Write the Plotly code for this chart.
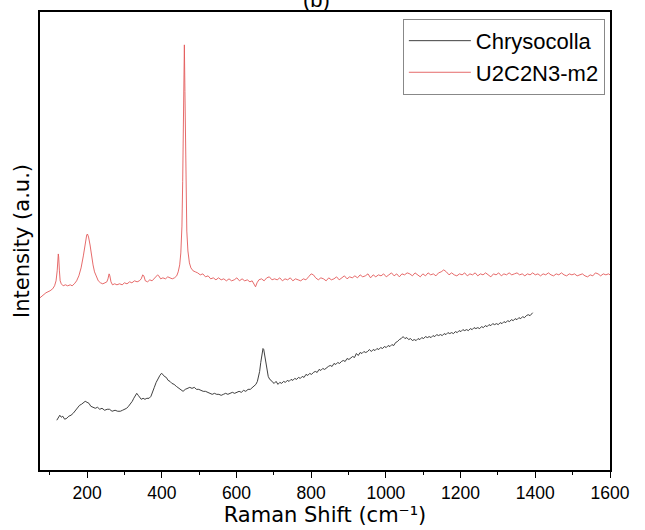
import plotly.graph_objects as go

# ---- data ----
series_names = ["Chrysocolla", "U2C2N3-m2"]

chry_x = [119,123,127,131,135,140,146,151,157,163,169,175,180,185,190,195,200,205,210,216,222,228,234,240,247,254,260,267,275,282,289,295,300,306,311,316,321,325,329,333,337,341,345,350,355,360,366,371,376,380,385,390,395,399,403,407,412,417,422,427,433,439,445,451,457,463,469,475,481,487,493,499,505,511,517,523,529,535,541,547,553,559,565,571,577,583,589,595,601,607,613,619,625,631,637,643,648,652,656,659,662,665,668,671,673,676,679,682,685,689,693,697,701,706,711,716,721,726,731,736,741,746,751,756,761,766,771,776,781,786,791,796,801,806,811,816,821,826,831,836,841,846,851,856,861,866,871,876,881,886,891,896,901,906,911,916,921,926,931,936,941,946,951,956,961,966,971,976,981,986,991,996,1001,1006,1011,1016,1021,1026,1031,1036,1041,1046,1051,1056,1061,1066,1071,1076,1081,1086,1091,1096,1101,1106,1111,1116,1121,1126,1131,1136,1141,1146,1151,1156,1161,1166,1171,1176,1181,1186,1191,1196,1201,1206,1211,1216,1221,1226,1231,1236,1241,1246,1251,1256,1261,1266,1271,1276,1281,1286,1291,1296,1301,1306,1311,1316,1321,1326,1331,1336,1341,1346,1351,1356,1361,1366,1371,1376,1381,1386,1391,1393]
chry_y = [50,53,55,53,54,51,52,54,55,57,60,62,65,66,68,69,68,67,64,63,62,63,61,62,60,61,61,59,60,59,59,60,61,62,64,66,69,72,75,77,75,73,71,72,71,72,72,74,78,83,88,92,95,97,96,94,93,90,89,87,86,84,82,81,79,81,82,83,82,83,81,81,80,79,79,78,77,76,77,76,76,75,76,77,76,77,78,77,78,79,78,80,79,81,81,83,84,86,89,93,99,108,117,122,121,114,105,98,94,91,90,88,87,89,86,88,87,89,88,90,89,91,90,92,91,93,92,94,93,96,95,97,96,98,99,98,101,100,102,101,103,104,105,104,107,106,108,107,109,110,109,112,111,113,114,113,117,115,118,117,119,118,119,121,119,121,120,122,121,123,122,124,123,125,124,126,125,128,129,131,132,134,132,133,131,132,130,131,130,132,131,133,132,134,133,134,133,135,134,136,135,136,135,137,136,138,137,138,137,139,138,140,139,141,140,141,140,142,141,143,142,143,142,144,143,145,144,146,145,147,146,147,146,148,147,149,148,150,149,151,150,152,151,153,152,154,153,155,156,155,157,158]

u2_x = [74,82,90,101,108,113,117,120,122,123,124,126,128,131,136,142,148,155,160,166,172,178,184,190,195,199,201,204,208,212,216,220,225,230,236,242,248,253,256,259,261,264,268,274,280,287,294,300,307,314,320,327,334,340,345,349,352,356,362,368,374,380,385,389,392,397,403,410,416,422,428,434,440,444,448,451,454,456,458,459.5,460.5,462,463.5,465,467,470,474,478,484,490,496,503,510,517,524,531,538,545,552,559,566,573,580,587,594,601,608,615,622,629,636,642,647,651,655,660,667,674,681,688,695,702,709,716,723,730,737,744,751,758,765,772,779,786,793,800,806,812,819,826,833,840,847,854,861,868,875,882,889,896,903,910,917,924,931,938,945,952,959,966,973,980,987,994,1001,1008,1015,1022,1029,1036,1043,1050,1057,1064,1071,1078,1085,1092,1099,1106,1113,1120,1127,1134,1141,1148,1155,1162,1169,1176,1183,1190,1197,1204,1211,1218,1225,1232,1239,1246,1253,1260,1267,1274,1281,1288,1295,1302,1309,1316,1323,1330,1337,1344,1351,1358,1365,1372,1379,1386,1393,1400,1407,1414,1421,1428,1435,1442,1449,1456,1463,1470,1477,1484,1491,1498,1505,1512,1519,1526,1533,1540,1547,1554,1561,1568,1575,1582,1589,1596,1600]
u2_y = [173,176,178,180,182,185,190,200,212,217,214,200,190,187,185,186,185,186,185,187,190,195,203,215,228,236,237,234,226,215,206,199,194,190,188,187,188,189,192,197,195,189,186,187,186,187,186,188,187,189,188,190,189,190,192,196,195,190,189,191,190,192,194,196,195,192,193,192,194,193,192,193,195,199,206,218,245,290,360,410,427,380,320,270,240,220,208,203,200,199,198,196,197,194,195,192,193,191,193,191,192,190,192,190,191,193,190,192,190,191,189,190,186,184,188,191,192,190,193,194,191,192,191,193,190,192,191,193,190,192,191,190,192,191,194,197,196,193,191,193,192,190,193,191,192,194,191,193,195,192,194,193,195,193,196,194,195,197,193,196,194,196,195,197,194,196,198,195,197,194,197,196,198,197,195,198,196,194,197,195,198,196,197,195,198,199,201,199,196,198,196,195,197,196,198,195,197,196,198,195,197,196,198,196,194,197,196,198,195,197,196,198,196,197,198,196,197,195,197,196,198,196,197,195,197,196,198,196,195,197,196,198,196,195,197,196,197,195,196,197,195,194,196,195,198,197,195,197,196,197,196]

x_tick_vals = [200, 400, 600, 800, 1000, 1200, 1400, 1600]
x_range = [74, 1600]
y_range = [0, 460]

fig = go.Figure()
fig.add_trace(go.Scatter(x=chry_x, y=chry_y, mode="lines", name=series_names[0],
                         line=dict(color="#2a2a2a", width=0.9)))
fig.add_trace(go.Scatter(x=u2_x, y=u2_y, mode="lines", name=series_names[1],
                         line=dict(color="#e35a5a", width=0.9)))

fig.update_layout(
    width=645, height=530,
    margin=dict(l=40, r=35, t=10, b=60),
    paper_bgcolor="white", plot_bgcolor="white",
    showlegend=True,
    legend=dict(x=0.991, y=0.985, xanchor="right", yanchor="top",
                bgcolor="white", bordercolor="#888888", borderwidth=1,
                font=dict(family="Liberation Sans, Arial", size=22, color="black"),
                itemwidth=62, tracegroupgap=0),
    annotations=[dict(text="(b)", x=0.485, y=1, xref="paper", yref="paper",
                      xanchor="center", yanchor="bottom", yshift=-2, showarrow=False,
                      font=dict(family="Liberation Sans, Arial", size=22, color="black"))],
)
fig.update_xaxes(range=x_range, tickvals=x_tick_vals, ticks="outside", ticklen=6,
                 tickwidth=1.2, tickcolor="black",
                 minor=dict(dtick=100, tick0=0, ticks="outside", ticklen=3, tickcolor="black", tickwidth=1),
                 showline=True, linecolor="black", linewidth=1.5, mirror=True,
                 showgrid=False, zeroline=False,
                 tickfont=dict(family="Liberation Sans, Arial", size=17.5, color="black"),
                 title=dict(text="Raman Shift (cm\u207b\u00b9)", standoff=2,
                            font=dict(family="DejaVu Sans", size=21, color="black")))
fig.update_yaxes(range=y_range, showticklabels=False, ticks="",
                 showline=True, linecolor="black", linewidth=1.5, mirror=True,
                 showgrid=False, zeroline=False,
                 title=dict(text="Intensity (a.u.)", standoff=3,
                            font=dict(family="DejaVu Sans", size=21, color="black")))

fig.write_html("out.html")
